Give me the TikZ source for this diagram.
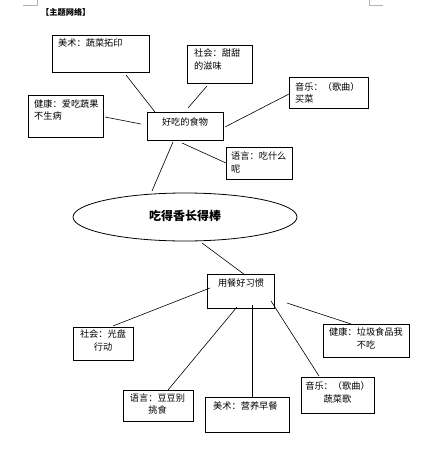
\documentclass[tikz,border=0pt]{standalone}
\usepackage{fontspec}
\setmainfont{Noto Sans CJK SC}
\usetikzlibrary{shapes.geometric}
\begin{document}
\begin{tikzpicture}[x=1pt,y=-1pt,
  box/.style={draw,line width=0.8pt,inner sep=0pt,anchor=north west},
  txt/.style={inner sep=0pt,font=\fontsize{9.2}{12.5}\selectfont},
  ln/.style={line width=0.6pt},
  cornermark/.style={draw=gray!60,line width=0.5pt}]
\useasboundingbox (0,0) rectangle (435,450);
% corner marks
\coordinate (m1a) at (23,5); \coordinate (m1b) at (37,5); \coordinate (m1c) at (37,0);
\coordinate (m2a) at (369,0); \coordinate (m2b) at (369,5); \coordinate (m2c) at (383,5);
\draw[cornermark] (m1a) -- (m1b) -- (m1c);
\draw[cornermark] (m2a) -- (m2b) -- (m2c);
% title
\node[inner sep=0pt,anchor=west,font=\fontsize{8.2}{10}\selectfont\bfseries] (title) at (41,12) {【主题网络】};
% boxes upper
\node[box,minimum width=97,minimum height=37] (ms) at (52,35) {};
\node[txt,anchor=west] (mst) at (58,43) {美术：蔬菜拓印};
\node[box,minimum width=65,minimum height=38] (sh) at (187,45) {};
\node[txt,anchor=north west,align=left] (sht) at (194,49) {社会：甜甜\\的滋味};
\node[box,minimum width=79,minimum height=31] (yy) at (289,77) {};
\node[txt,anchor=north west,align=left] (yyt) at (295,82) {音乐：（歌曲）\\买菜};
\node[box,minimum width=75,minimum height=42] (jk) at (28,95) {};
\node[txt,anchor=north west,align=left] (jkt) at (34,99) {健康：爱吃蔬果\\不生病};
\node[box,minimum width=76,minimum height=28] (hc) at (147,112) {};
\node[txt] (hct) at (185,122) {好吃的食物};
\node[box,minimum width=66,minimum height=32] (yu) at (226,147) {};
\node[txt,anchor=north west,align=left] (yut) at (231,152) {语言：吃什么\\呢};
% ellipse
\node[draw,ellipse,line width=0.8pt,minimum width=224,minimum height=48,inner sep=0pt] (el) at (185,217) {};
\node[inner sep=0pt,font=\fontsize{12}{14}\selectfont\bfseries] (elt) at (185,216) {吃得香长得棒};
% lower boxes
\node[box,minimum width=67,minimum height=34] (yc) at (207,274) {};
\node[txt] (yct) at (241,283) {用餐好习惯};
\node[box,minimum width=60,minimum height=33] (gp) at (73,327) {};
\node[txt,anchor=north,align=center] (gpt) at (103,329.5) {社会：光盘\\行动};
\node[box,minimum width=86,minimum height=33] (lj) at (323,324) {};
\node[txt,anchor=north,align=center] (ljt) at (366,327.5) {健康：垃圾食品我\\不吃};
\node[box,minimum width=70,minimum height=31] (dd) at (123,390) {};
\node[txt,anchor=north,align=center] (ddt) at (157.5,393.5) {语言：豆豆别\\挑食};
\node[box,minimum width=84,minimum height=35] (zc) at (205,397) {};
\node[txt,anchor=west] (zct) at (213,406) {美术：营养早餐};
\node[box,minimum width=73,minimum height=36] (sc) at (301,377) {};
\node[txt,anchor=north,align=center] (sct) at (337.5,381.5) {音乐：（歌曲）\\蔬菜歌};
% connector end points
\coordinate (a1) at (126,75);  \coordinate (a2) at (155,112);
\coordinate (b1) at (207,86);  \coordinate (b2) at (188,108);
\coordinate (c1) at (289,94);  \coordinate (c2) at (225,127);
\coordinate (d1) at (105,117); \coordinate (d2) at (141,124);
\coordinate (e1) at (182,143); \coordinate (e2) at (226,163);
\coordinate (f1) at (173,142); \coordinate (f2) at (152,191);
\coordinate (g1) at (202,243); \coordinate (g2) at (245,275);
\coordinate (h1) at (210,288); \coordinate (h2) at (113,326);
\coordinate (i1) at (237,307); \coordinate (i2) at (168,390);
\coordinate (j1) at (252,305); \coordinate (j2) at (252,397);
\coordinate (k1) at (271,301); \coordinate (k2) at (319,376);
\coordinate (l1) at (287,303); \coordinate (l2) at (351,324);
\draw[ln] (a1) -- (a2);
\draw[ln] (b1) -- (b2);
\draw[ln] (c1) -- (c2);
\draw[ln] (d1) -- (d2);
\draw[ln] (e1) -- (e2);
\draw[ln] (f1) -- (f2);
\draw[ln] (g1) -- (g2);
\draw[ln] (h1) -- (h2);
\draw[ln] (i1) -- (i2);
\draw[ln] (j1) -- (j2);
\draw[ln] (k1) -- (k2);
\draw[ln] (l1) -- (l2);
\end{tikzpicture}
\end{document}
